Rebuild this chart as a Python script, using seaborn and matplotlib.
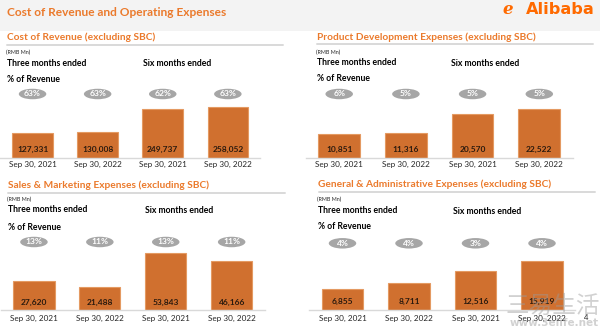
import matplotlib
matplotlib.use("Agg")
import matplotlib.pyplot as plt
from matplotlib.patches import Ellipse, Rectangle
from matplotlib.transforms import blended_transform_factory
import pandas as pd
import seaborn as sns

# ---- data -------------------------------------------------------------
periods = ["3M FY21", "3M FY22", "6M FY21", "6M FY22"]
date_labels = ["Sep 30, 2021", "Sep 30, 2022", "Sep 30, 2021", "Sep 30, 2022"]

cost_of_revenue = [127331, 130008, 249737, 258052]
cost_of_revenue_pct = [63, 63, 62, 63]

product_dev = [10851, 11316, 20570, 22522]
product_dev_pct = [6, 5, 5, 5]

sales_marketing = [27620, 21488, 53843, 46166]
sales_marketing_pct = [13, 11, 13, 11]

general_admin = [6855, 8711, 12516, 15919]
general_admin_pct = [4, 4, 3, 4]

panel_titles = [
    "Cost of Revenue (excluding SBC)",
    "Product Development Expenses (excluding SBC)",
    "Sales & Marketing Expenses (excluding SBC)",
    "General & Administrative Expenses (excluding SBC)",
]

# ---- styling ----------------------------------------------------------
sns.set_theme(style="white")
plt.rcParams["font.family"] = ["Lato", "DejaVu Sans"]

W, H = 600, 328
ORANGE_TITLE = "#EB7A2C"
ORANGE_BAR = "#D0702F"
ORANGE_EDGE = "#E49A62"
GRAY_PILL = "#A6A6A6"
GRAY_RULE = "#D9D9D9"
TEXT_DARK = "#262626"

fig = plt.figure(figsize=(W / 100, H / 100), dpi=100)
fig.patch.set_facecolor("white")


def fx(x):
    return x / W


def fy(y):
    return 1 - y / H


# header band
fig.patches.append(Rectangle((0, fy(31)), 1, 31 / H, transform=fig.transFigure,
                             facecolor="#F3F3F3", edgecolor="none", zorder=0))
fig.text(fx(7), fy(13), "Cost of Revenue and Operating Expenses", color=ORANGE_TITLE,
         fontsize=8.6, fontweight="bold", va="center", ha="left")

# company logo
fig.text(fx(503), fy(9.5), "\u212F", color="#FF6A00", fontsize=12, fontweight="bold",
         va="center", ha="left", family=["DejaVu Sans"])
fig.text(fx(595), fy(9.5), "Alibaba", color="#FF6A00", fontsize=11.6, fontweight="heavy",
         va="center", ha="right", family=["DejaVu Sans"])

# per-panel layout, in pixels
layouts = [
    dict(left=0.0, width=260.4, base=157.7, title_y=37.7, rule_y=45.0, rx0=7, rx1=283,
         tx=7, sx=143, rmb_y=52.3, three_y=63.3, pct_y=80.0, pill_y=94.0, pad=2.6, head=1.578),
    dict(left=305.85, width=266.8, base=157.7, title_y=37.0, rule_y=44.3, rx0=317, rx1=593,
         tx=317, sx=451, rmb_y=52.0, three_y=62.7, pct_y=78.7, pill_y=94.0, pad=2.6, head=1.656),
    dict(left=1.0, width=263.6, base=310.3, title_y=185.0, rule_y=192.7, rx0=8, rx1=285,
         tx=8, sx=145, rmb_y=199.3, three_y=210.0, pct_y=227.3, pill_y=242.0, pad=3.6, head=1.396),
    dict(left=309.25, width=266.0, base=309.7, title_y=184.0, rule_y=191.7, rx0=319, rx1=595,
         tx=318, sx=453, rmb_y=199.0, three_y=210.7, pct_y=226.7, pill_y=243.3, pad=3.6, head=1.643),
]

series = [
    (cost_of_revenue, cost_of_revenue_pct),
    (product_dev, product_dev_pct),
    (sales_marketing, sales_marketing_pct),
    (general_admin, general_admin_pct),
]

AX_H = 80.0  # axes height in pixels

for title, (values, pcts), lay in zip(panel_titles, series, layouts):
    # panel header
    fig.text(fx(lay["tx"]), fy(lay["title_y"]), title, color=ORANGE_TITLE, fontsize=7.3,
             fontweight="bold", va="center", ha="left")
    fig.add_artist(plt.Line2D([fx(lay["rx0"]), fx(lay["rx1"])], [fy(lay["rule_y"])] * 2,
                              transform=fig.transFigure, color=GRAY_RULE, lw=1.4))
    fig.text(fx(lay["tx"] - 1), fy(lay["rmb_y"]), "(RMB Mn)", color=TEXT_DARK, fontsize=3.9,
             va="center", ha="left")
    fig.text(fx(lay["tx"]), fy(lay["three_y"]), "Three months ended", color="black",
             fontsize=6.2, fontweight="bold", va="center", ha="left")
    fig.text(fx(lay["sx"]), fy(lay["three_y"] + 0.5), "Six months ended", color="black",
             fontsize=6.2, fontweight="bold", va="center", ha="left")
    fig.text(fx(lay["tx"]), fy(lay["pct_y"]), "% of Revenue", color="black",
             fontsize=6.2, fontweight="bold", va="center", ha="left")

    # bar axes
    ax = fig.add_axes([fx(lay["left"]), 1 - lay["base"] / H, lay["width"] / W, AX_H / H])
    ax.set_facecolor("none")
    df = pd.DataFrame({"period": periods, "value": values})
    sns.barplot(data=df, x="period", y="value", ax=ax, color=ORANGE_BAR, saturation=1,
                width=0.625, edgecolor=ORANGE_EDGE, linewidth=0.8)
    ax.set_xlim(-0.5, len(periods) - 0.5)
    ax.set_ylim(0, max(values) * lay["head"])
    ax.set_xlabel("")
    ax.set_ylabel("")
    ax.set_yticks([])
    ax.set_xticks(range(len(periods)))
    ax.set_xticklabels(date_labels, fontsize=5.9, color=TEXT_DARK)
    ax.tick_params(axis="x", length=0, pad=lay["pad"])
    for side in ("top", "left", "right"):
        ax.spines[side].set_visible(False)
    ax.spines["bottom"].set_color(GRAY_RULE)
    ax.spines["bottom"].set_linewidth(1.0)

    # value labels at the foot of each bar
    for i, v in enumerate(values):
        ax.annotate(f"{v:,}", xy=(i, 0), xytext=(0, 6.0), textcoords="offset points",
                    ha="center", va="center", fontsize=6.0, fontweight="bold", color="#2B1A0E")

    # % of revenue pills
    trans = blended_transform_factory(ax.transData, ax.transAxes)
    pill_frac = (lay["base"] - lay["pill_y"]) / AX_H
    step_px = lay["width"] / len(periods)
    for i, p in enumerate(pcts):
        ax.add_patch(Ellipse((i, pill_frac), 27.5 / step_px, 10.5 / AX_H, transform=trans,
                             facecolor=GRAY_PILL, edgecolor="none", clip_on=False))
        ax.text(i, pill_frac, f"{p}%", transform=trans, ha="center", va="center",
                fontsize=6.1, fontweight="bold", color="white")

# page number and site watermark
fig.text(fx(586), fy(317), "4", fontsize=5.5, color=TEXT_DARK, ha="center", va="center")
fig.text(fx(600), fy(306), "三易生活", fontsize=17, color="#9A9A9A", alpha=0.45,
         ha="right", va="center", family=["Noto Sans CJK SC", "DejaVu Sans"])
fig.text(fx(599), fy(322.5), "www.3elife.net", fontsize=7.5, fontweight="bold", color="#9A9A9A",
         alpha=0.45, ha="right", va="center", family=["DejaVu Sans"])

fig.savefig("out.png", dpi=100)
